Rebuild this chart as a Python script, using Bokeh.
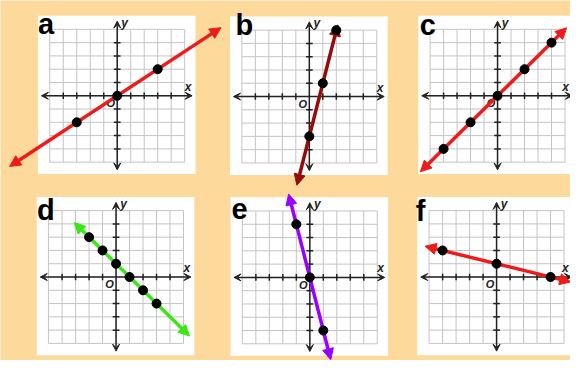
from bokeh.plotting import figure
from bokeh.models import Range1d, Arrow, NormalHead, VeeHead
from bokeh.embed import file_html
from bokeh.resources import INLINE
from bokeh.core.properties import value

# ---------------- data ----------------
panel_names = ["a", "b", "c", "d", "e", "f"]
grid_values = [-5, -4, -3, -2, -1, 0, 1, 2, 3, 4, 5]
tick_values = [-4, -3, -2, -1, 1, 2, 3, 4]

a_points_x = [-3, 0, 3]
a_points_y = [-2, 0, 2]
b_points_x = [0, 1, 2]
b_points_y = [-3, 1, 5]
c_points_x = [-4, -2, 0, 2, 4]
c_points_y = [-4, -2, 0, 2, 4]
d_points_x = [-2, -1, 0, 1, 2, 3]
d_points_y = [3, 2, 1, 0, -1, -2]
e_points_x = [-1, 0, 1]
e_points_y = [4, 0, -4]
f_points_x = [-4, 0, 4]
f_points_y = [2, 1, 0]

# line end points (tip of each arrow)
a_line_x = [-7.98, 7.69]
a_line_y = [-5.32, 5.13]
b_line_x = [-0.92, 2.1]
b_line_y = [-6.68, 5.4]
c_line_x = [-5.72, 5.12]
c_line_y = [-5.72, 5.12]
d_line_x = [-3.1, 5.45]
d_line_y = [4.1, -4.45]
e_line_x = [-1.57, 1.55]
e_line_y = [6.28, -6.2]
f_line_x = [-5.3, 5.5]
f_line_y = [2.32, -0.37]

points = {
    "a": (a_points_x, a_points_y), "b": (b_points_x, b_points_y),
    "c": (c_points_x, c_points_y), "d": (d_points_x, d_points_y),
    "e": (e_points_x, e_points_y), "f": (f_points_x, f_points_y),
}
lines = {
    "a": (a_line_x, a_line_y), "b": (b_line_x, b_line_y),
    "c": (c_line_x, c_line_y), "d": (d_line_x, d_line_y),
    "e": (e_line_x, e_line_y), "f": (f_line_x, f_line_y),
}

# ---------------- layout / style ----------------
PAGE_W, PAGE_H = 586, 376
FIG_W, FIG_H = 570, 360
UNIT = 13.87  # page pixels per grid unit
origins = {"a": (120, 99.5), "b": (317.5, 100.3), "c": (511, 99.5),
           "d": (118.8, 288.8), "e": (318, 289.2), "f": (510, 288.8)}
letter_pos = {"a": (38.5, 25), "b": (241.5, 26), "c": (431, 26),
              "d": (37.5, 219), "e": (237.5, 217.5), "f": (427, 220)}
xlabel_pos = {"a": 5.25, "b": 5.25, "c": 5.05, "d": 5.25, "e": 5.25, "f": 5.1}
colors = {"a": "#EE1B1B", "b": "#960A0A", "c": "#EE1B1B",
          "d": "#3BE817", "e": "#9A00FF", "f": "#EE1B1B"}
BG = "#FDD99C"
GRID = "#C4C4C4"
AX = "#222222"

p = figure(width=FIG_W, height=FIG_H, output_backend="svg", toolbar_location=None,
           x_range=Range1d(0, PAGE_W), y_range=Range1d(PAGE_H, 0),
           min_border=0, outline_line_color=None)
p.axis.visible = False
p.grid.visible = False
p.background_fill_color = BG
p.border_fill_color = BG

for k in panel_names:
    ox, oy = origins[k]
    p.extra_x_ranges["x" + k] = Range1d((0 - ox) / UNIT, (PAGE_W - ox) / UNIT)
    p.extra_y_ranges["y" + k] = Range1d((oy - PAGE_H) / UNIT, oy / UNIT)

# panels: background, grid, axes
for k in panel_names:
    rn = dict(x_range_name="x" + k, y_range_name="y" + k)
    p.quad(left=[-5.88], right=[5.8], bottom=[-5.9], top=[6.03],
           fill_color="white", line_color=None, **rn)
    n = len(grid_values)
    p.segment(x0=grid_values, x1=grid_values, y0=[-5] * n, y1=[5] * n,
              line_color=GRID, line_width=1, **rn)
    p.segment(x0=[-5] * n, x1=[5] * n, y0=grid_values, y1=grid_values,
              line_color=GRID, line_width=1, **rn)
    m = len(tick_values)
    p.segment(x0=tick_values, x1=tick_values, y0=[-0.25] * m, y1=[0.25] * m,
              line_color=AX, line_width=1.5, **rn)
    p.segment(x0=[-0.25] * m, x1=[0.25] * m, y0=tick_values, y1=tick_values,
              line_color=AX, line_width=1.5, **rn)
    for (xs, ys, xe, ye) in [(-5.62, 0, 5.55, 0), (0, -5.58, 0, 5.62)]:
        p.add_layout(Arrow(start=VeeHead(size=7, fill_color=AX, line_color=AX, line_width=1),
                           end=VeeHead(size=7, fill_color=AX, line_color=AX, line_width=1),
                           x_start=xs, y_start=ys, x_end=xe, y_end=ye,
                           line_color=AX, line_width=1.5, **rn))
    p.text(x=[xlabel_pos[k]], y=[0.68], text=["x"], text_font=value("Liberation Sans"),
           text_font_style="bold italic", text_font_size="12px",
           text_align="center", text_baseline="middle", text_color=AX, **rn)
    p.text(x=[0.55], y=[5.5], text=["y"], text_font=value("Liberation Sans"),
           text_font_style="bold italic", text_font_size="12px",
           text_align="center", text_baseline="middle", text_color=AX, **rn)
    p.text(x=[-0.48], y=[-0.55], text=["O"], text_font=value("Liberation Sans"),
           text_font_style="bold italic", text_font_size="11px",
           text_align="center", text_baseline="middle", text_color=AX, **rn)

# panel letters
for k in panel_names:
    lx, ly = letter_pos[k]
    p.text(x=[lx], y=[ly], text=[k], text_font=value("Liberation Sans"),
           text_font_style="bold", text_font_size="29px",
           text_align="left", text_baseline="alphabetic", text_color="black")

# lines with arrow heads, then points on top
for k in panel_names:
    rn = dict(x_range_name="x" + k, y_range_name="y" + k)
    lx, ly = lines[k]
    c = colors[k]
    p.add_layout(Arrow(start=NormalHead(size=11, fill_color=c, line_color=c, line_width=1),
                       end=NormalHead(size=11, fill_color=c, line_color=c, line_width=1),
                       x_start=lx[0], y_start=ly[0], x_end=lx[1], y_end=ly[1],
                       line_color=c, line_width=3.5, **rn))
for k in panel_names:
    rn = dict(x_range_name="x" + k, y_range_name="y" + k)
    px, py = points[k]
    r = p.scatter(x=px, y=py, size=9, fill_color="black", line_color="black", **rn)
    r.level = "overlay"

open("out.html", "w").write(file_html(p, INLINE))
